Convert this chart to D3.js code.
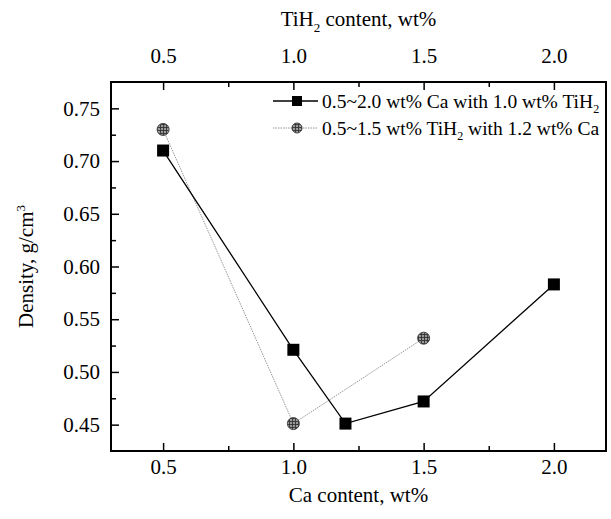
<!DOCTYPE html>
<html>
<head>
<meta charset="utf-8">
<script src="https://cdn.jsdelivr.net/npm/d3@7"></script>
<style>
  body { margin: 0; background: white; }
  svg text { font-family: "Liberation Serif", "Times New Roman", serif; fill: black; }
</style>
</head>
<body>
<div id="chart"></div>
<script>
// Data
const caContent = [0.5, 1.0, 1.2, 1.5, 2.0];
const caDensity = [0.71, 0.521, 0.451, 0.472, 0.583];
const tiContent = [0.5, 1.0, 1.5];
const tiDensity = [0.73, 0.451, 0.532];
const xTicks = [0.5, 1.0, 1.5, 2.0];
const xMinor = [0.75, 1.25, 1.75];
const yTicks = [0.45, 0.50, 0.55, 0.60, 0.65, 0.70, 0.75];
const yMinor = [0.475, 0.525, 0.575, 0.625, 0.675, 0.725];

const width = 611, height = 519;
const margin = { top: 82, right: 5, bottom: 68, left: 111 };
const serif = '"Liberation Serif", "Times New Roman", serif';

const svg = d3.select('#chart').append('svg')
    .attr('width', width)
    .attr('height', height);

// Scales
const x = d3.scaleLinear()
    .domain([0.3, 2.2])
    .range([margin.left, width - margin.right]);
const xTop = d3.scaleLinear()
    .domain([0.3, 2.2])
    .range([margin.left, width - margin.right]);
const y = d3.scaleLinear()
    .domain([0.425, 0.775])
    .range([height - margin.bottom, margin.top]);

const fmt = d3.format('.1f');

// Hatched fill for the round markers
const defs = svg.append('defs');
const pat = defs.append('pattern')
    .attr('id', 'hatch')
    .attr('patternUnits', 'userSpaceOnUse')
    .attr('width', 3).attr('height', 3);
pat.append('rect').attr('width', 3).attr('height', 3).attr('fill', '#9a9a9a');
pat.append('path').attr('d', 'M0,1.5H3M1.5,0V3').attr('stroke', '#333').attr('stroke-width', 0.9);

// Axes
const styleAxis = g => {
    g.attr('font-family', serif).attr('font-size', 21);
    g.select('.domain').remove();
    g.selectAll('line').attr('stroke', 'black').attr('stroke-width', 1.5);
    g.selectAll('text').style('font-size', '21px');
};

svg.append('g')
    .attr('transform', `translate(0,${y.range()[0]})`)
    .call(d3.axisBottom(x).tickValues(xTicks).tickFormat(fmt).tickSize(-8).tickPadding(8))
    .call(styleAxis);
svg.append('g')
    .attr('transform', `translate(0,${y.range()[0]})`)
    .call(d3.axisBottom(x).tickValues(xMinor).tickFormat('').tickSize(-5))
    .call(styleAxis);

svg.append('g')
    .attr('transform', `translate(0,${margin.top})`)
    .call(d3.axisTop(xTop).tickValues(xTicks).tickFormat(fmt).tickSize(-8).tickPadding(19))
    .call(styleAxis);
svg.append('g')
    .attr('transform', `translate(0,${margin.top})`)
    .call(d3.axisTop(xTop).tickValues(xMinor).tickFormat('').tickSize(-5))
    .call(styleAxis);

svg.append('g')
    .attr('transform', `translate(${margin.left},0)`)
    .call(d3.axisLeft(y).tickValues(yTicks).tickFormat(d3.format('.2f')).tickSize(-8).tickPadding(11))
    .call(styleAxis);
svg.append('g')
    .attr('transform', `translate(${margin.left},0)`)
    .call(d3.axisLeft(y).tickValues(yMinor).tickFormat('').tickSize(-5))
    .call(styleAxis);

// Frame
svg.append('rect')
    .attr('x', x.range()[0])
    .attr('y', y.range()[1])
    .attr('width', x.range()[1] - x.range()[0])
    .attr('height', y.range()[0] - y.range()[1])
    .attr('fill', 'none')
    .attr('stroke', 'black')
    .attr('stroke-width', 2);

// Series 2: TiH2 content (top axis)
const tiData = tiContent.map((d, i) => [d, tiDensity[i]]);
svg.append('path')
    .datum(tiData)
    .attr('fill', 'none')
    .attr('stroke', '#8a8a8a')
    .attr('stroke-width', 0.9)
    .attr('stroke-dasharray', '1.5,1')
    .attr('d', d3.line().x(d => xTop(d[0])).y(d => y(d[1])));

// Series 1: Ca content (bottom axis)
const caData = caContent.map((d, i) => [d, caDensity[i]]);
svg.append('path')
    .datum(caData)
    .attr('fill', 'none')
    .attr('stroke', 'black')
    .attr('stroke-width', 1.3)
    .attr('d', d3.line().x(d => x(d[0])).y(d => y(d[1])));

svg.selectAll('.sq')
    .data(caData)
    .enter().append('rect')
        .attr('class', 'sq')
        .attr('x', d => x(d[0]) - 6)
        .attr('y', d => y(d[1]) - 6)
        .attr('width', 12)
        .attr('height', 12)
        .attr('fill', 'black');

svg.selectAll('.dot')
    .data(tiData)
    .enter().append('circle')
        .attr('class', 'dot')
        .attr('cx', d => xTop(d[0]))
        .attr('cy', d => y(d[1]))
        .attr('r', 6)
        .attr('fill', 'url(#hatch)')
        .attr('stroke', '#444')
        .attr('stroke-width', 1);

// Legend
const legend = svg.append('g');
legend.append('line')
    .attr('x1', 273).attr('x2', 318).attr('y1', 101).attr('y2', 101)
    .attr('stroke', 'black').attr('stroke-width', 1.3);
legend.append('rect')
    .attr('x', 292).attr('y', 96).attr('width', 10).attr('height', 10)
    .attr('fill', 'black');
const t1 = legend.append('text')
    .attr('x', 322).attr('y', 108)
    .style('font-size', '19.5px');
t1.append('tspan').text('0.5~2.0 wt% Ca with 1.0 wt% TiH');
t1.append('tspan').attr('dy', 5).style('font-size', '12px').text('2');

legend.append('line')
    .attr('x1', 273).attr('x2', 318).attr('y1', 128).attr('y2', 128)
    .attr('stroke', '#8a8a8a').attr('stroke-width', 0.9).attr('stroke-dasharray', '1.5,1');
legend.append('circle')
    .attr('cx', 297).attr('cy', 128).attr('r', 5)
    .attr('fill', 'url(#hatch)').attr('stroke', '#444').attr('stroke-width', 1);
const t2 = legend.append('text')
    .attr('x', 322).attr('y', 135)
    .style('font-size', '19.5px');
t2.append('tspan').text('0.5~1.5 wt% TiH');
t2.append('tspan').attr('dy', 5).style('font-size', '12px').text('2');
t2.append('tspan').attr('dy', -5).text(' with 1.2 wt% Ca');

// Axis titles
svg.append('text')
    .attr('x', (x.range()[0] + x.range()[1]) / 2)
    .attr('y', 502)
    .attr('text-anchor', 'middle')
    .style('font-size', '21px')
    .text('Ca content, wt%');

const topTitle = svg.append('text')
    .attr('x', (x.range()[0] + x.range()[1]) / 2)
    .attr('y', 26)
    .attr('text-anchor', 'middle')
    .style('font-size', '21px');
topTitle.append('tspan').text('TiH');
topTitle.append('tspan').attr('dy', 6).style('font-size', '13px').text('2');
topTitle.append('tspan').attr('dy', -6).text(' content, wt%');

const yTitle = svg.append('text')
    .attr('transform', `translate(33,${(y.range()[0] + y.range()[1]) / 2}) rotate(-90)`)
    .attr('text-anchor', 'middle')
    .style('font-size', '21px');
yTitle.append('tspan').text('Density, g/cm');
yTitle.append('tspan').attr('dy', -8).style('font-size', '13px').text('3');
</script>
</body>
</html>
